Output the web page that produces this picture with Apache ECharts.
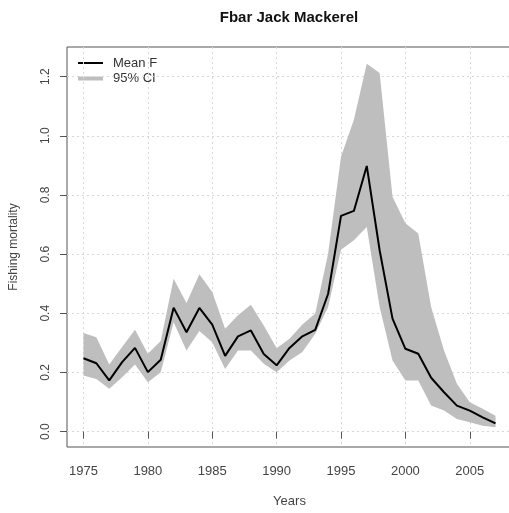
<!DOCTYPE html>
<html>
<head>
<meta charset="utf-8">
<script src="https://cdn.jsdelivr.net/npm/echarts@6/dist/echarts.min.js"></script>
<style>
  html, body { margin: 0; padding: 0; background: #fff; }
  #main { width: 509px; height: 513px; }
</style>
</head>
<body>
<div id="main"></div>
<script>
// data
const years = [1975, 1976, 1977, 1978, 1979, 1980, 1981, 1982, 1983, 1984, 1985,
  1986, 1987, 1988, 1989, 1990, 1991, 1992, 1993, 1994, 1995, 1996, 1997, 1998,
  1999, 2000, 2001, 2002, 2003, 2004, 2005, 2006, 2007]
const meanF = [0.248, 0.231, 0.173, 0.235, 0.283, 0.201, 0.243, 0.419, 0.336, 0.418, 0.362,
  0.256, 0.322, 0.342, 0.262, 0.224, 0.283, 0.322, 0.344, 0.466, 0.729, 0.746, 0.898, 0.613,
  0.382, 0.280, 0.263, 0.182, 0.133, 0.088, 0.071, 0.048, 0.028]
const upperCI = [0.333, 0.319, 0.227, 0.286, 0.344, 0.263, 0.306, 0.517, 0.435, 0.532, 0.472,
  0.348, 0.393, 0.429, 0.359, 0.282, 0.314, 0.362, 0.399, 0.602, 0.929, 1.054, 1.243, 1.212,
  0.794, 0.704, 0.670, 0.421, 0.274, 0.162, 0.099, 0.077, 0.054]
const lowerCI = [0.190, 0.178, 0.145, 0.184, 0.227, 0.167, 0.201, 0.370, 0.274, 0.340, 0.302,
  0.212, 0.274, 0.274, 0.229, 0.201, 0.240, 0.269, 0.331, 0.421, 0.615, 0.647, 0.692, 0.421,
  0.240, 0.173, 0.173, 0.088, 0.071, 0.043, 0.032, 0.020, 0.015]
const xTicks = [1975, 1980, 1985, 1990, 1995, 2000, 2005]
const yTicks = [0, 0.2, 0.4, 0.6, 0.8, 1.0, 1.2]

const font = 'Liberation Sans, Arial, sans-serif'
const chart = echarts.init(document.getElementById('main'))

// CI band drawn as one polygon: upper edge left->right, lower edge back
function renderBand (params, api) {
  if (params.dataIndex !== 0) return
  const pts = []
  for (let i = 0; i < years.length; i++) pts.push(api.coord([years[i], upperCI[i]]))
  for (let i = years.length - 1; i >= 0; i--) pts.push(api.coord([years[i], lowerCI[i]]))
  return {
    type: 'polygon',
    shape: { points: pts },
    style: { fill: '#bebebe', stroke: null }
  }
}

const option = {
  animation: false,
  backgroundColor: '#fff',
  grid: {
    left: 67, top: 47, width: 445, height: 400,
    outerBoundsMode: 'none',
    show: true, borderColor: '#555', borderWidth: 1
  },
  xAxis: {
    type: 'value',
    min: 1973.72,
    max: 2008.28,
    name: 'Years',
    nameLocation: 'middle',
    nameGap: 48,
    nameTextStyle: { fontFamily: font, fontSize: 13, color: '#444' },
    axisLine: { show: false },
    axisTick: { show: true, inside: false, length: 7, lineStyle: { color: '#555' }, customValues: xTicks },
    axisLabel: {
      customValues: xTicks, margin: 18, fontFamily: font, fontSize: 13, color: '#444',
      formatter: v => String(v)
    },
    splitLine: { show: true, lineStyle: { color: '#d8d8d8', type: [2, 3] } }
  },
  yAxis: {
    type: 'value',
    min: -0.052,
    max: 1.30,
    name: 'Fishing mortality',
    nameLocation: 'middle',
    nameGap: 47,
    nameTextStyle: { fontFamily: font, fontSize: 12, color: '#444' },
    axisLine: { show: false },
    axisTick: { show: true, inside: false, length: 7, lineStyle: { color: '#555' }, customValues: yTicks },
    axisLabel: {
      customValues: yTicks, rotate: 90, margin: 15,
      fontFamily: font, fontSize: 12, color: '#444',
      formatter: v => v.toFixed(1)
    },
    splitLine: { show: true, lineStyle: { color: '#d8d8d8', type: [2, 3] } }
  },
  graphic: [
    { type: 'text', x: 289, y: 10, style: { text: 'Fbar Jack Mackerel', font: 'bold 15px ' + font, fill: '#111', align: 'center', textAlign: 'center' } },
    { type: 'line', shape: { x1: 78, y1: 63, x2: 103, y2: 63 }, style: { stroke: '#000', lineWidth: 2 } },
    { type: 'line', shape: { x1: 78, y1: 78.5, x2: 103, y2: 78.5 }, style: { stroke: '#bebebe', lineWidth: 4 } },
    { type: 'text', x: 113, y: 63, style: { text: 'Mean F', font: '13px ' + font, fill: '#333', verticalAlign: 'middle' } },
    { type: 'text', x: 113, y: 78.5, style: { text: '95% CI', font: '13px ' + font, fill: '#333', verticalAlign: 'middle' } }
  ],
  series: [
    {
      type: 'custom',
      renderItem: renderBand,
      data: years.map((y, i) => [y, lowerCI[i], upperCI[i]]),
      encode: { x: 0, y: [1, 2] },
      silent: true,
      z: 1
    },
    {
      name: 'Mean F',
      type: 'line',
      data: years.map((y, i) => [y, meanF[i]]),
      symbol: 'none',
      lineStyle: { color: '#000', width: 2 },
      z: 3
    }
  ]
}

chart.setOption(option)
</script>
</body>
</html>
